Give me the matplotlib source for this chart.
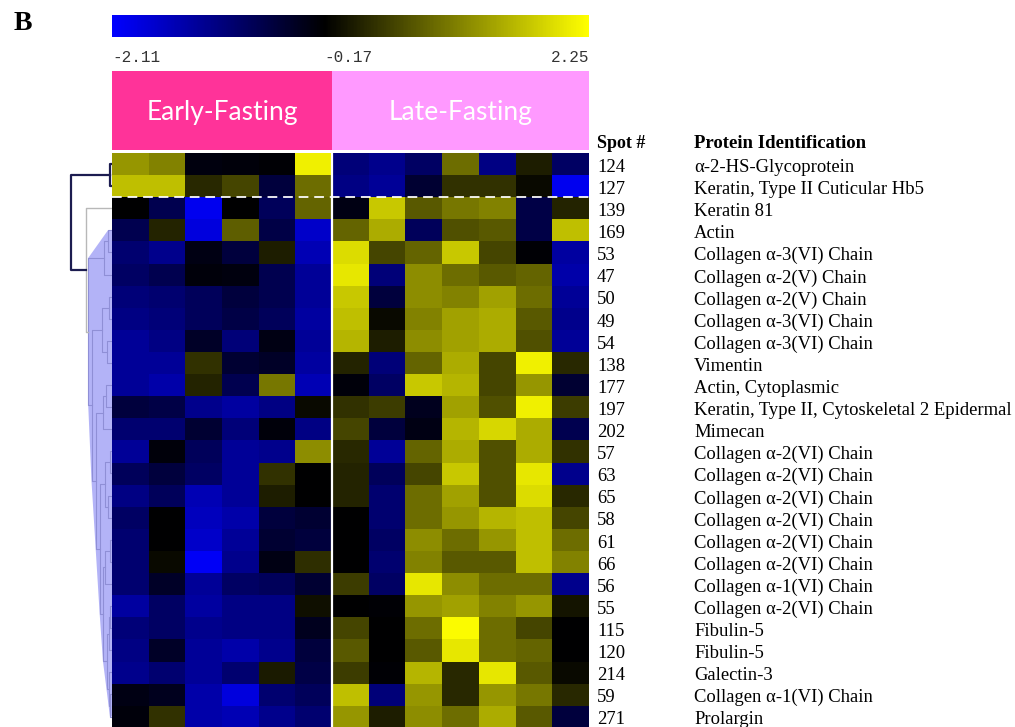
import matplotlib
matplotlib.use("Agg")
import matplotlib.pyplot as plt
import numpy as np
from matplotlib.colors import LinearSegmentedColormap, Normalize
from matplotlib.transforms import blended_transform_factory

W, H = 1015, 727

# expression values (row-standardised), rows in dendrogram order
spots = ["124", "127", "139", "169", "53", "47", "50", "49", "54", "138", "177",
         "197", "202", "57", "63", "65", "58", "61", "66", "56", "55", "115",
         "120", "214", "59", "271"]
proteins = [
    "α-2-HS-Glycoprotein", "Keratin, Type II Cuticular Hb5", "Keratin 81", "Actin",
    "Collagen α-3(VI) Chain", "Collagen α-2(V) Chain", "Collagen α-2(V) Chain",
    "Collagen α-3(VI) Chain", "Collagen α-3(VI) Chain", "Vimentin",
    "Actin, Cytoplasmic", "Keratin, Type II, Cytoskeletal 2 Epidermal", "Mimecan",
    "Collagen α-2(VI) Chain", "Collagen α-2(VI) Chain", "Collagen α-2(VI) Chain",
    "Collagen α-2(VI) Chain", "Collagen α-2(VI) Chain", "Collagen α-2(VI) Chain",
    "Collagen α-1(VI) Chain", "Collagen α-2(VI) Chain", "Fibulin-5", "Fibulin-5",
    "Galectin-3", "Collagen α-1(VI) Chain", "Prolargin",
]

early = [
    [1.26, 1.07, -0.28, -0.25, -0.21, 2.11],
    [1.64, 1.64, 0.21, 0.49, -0.63, 0.87],
    [-0.17, -0.78, -1.99, -0.17, -0.85, 0.78],
    [-0.78, 0.16, -1.84, 0.73, -0.70, -1.69],
    [-1.01, -1.23, -0.32, -0.63, 0.12, -1.54],
    [-0.93, -0.78, -0.25, -0.28, -0.78, -1.31],
    [-1.08, -1.01, -0.85, -0.63, -0.78, -1.31],
    [-1.16, -1.08, -0.85, -0.70, -0.85, -1.39],
    [-1.31, -1.16, -0.47, -1.08, -0.32, -1.31],
    [-1.31, -1.31, 0.30, -0.55, -0.47, -1.39],
    [-1.31, -1.46, 0.16, -0.78, 0.97, -1.54],
    [-0.63, -0.70, -1.23, -1.39, -1.16, -0.08],
    [-1.01, -1.01, -0.55, -1.08, -0.25, -1.16],
    [-1.31, -0.25, -0.85, -1.31, -1.23, 1.16],
    [-0.85, -0.63, -0.93, -1.31, 0.30, -0.17],
    [-1.16, -0.85, -1.54, -1.31, 0.12, -0.17],
    [-0.93, -0.17, -1.61, -1.46, -0.63, -0.55],
    [-1.01, -0.17, -1.69, -1.31, -0.55, -0.63],
    [-1.01, -0.08, -2.03, -1.23, -0.32, 0.26],
    [-1.01, -0.47, -1.31, -0.93, -0.85, -0.55],
    [-1.39, -0.93, -1.39, -1.16, -1.16, -0.03],
    [-1.08, -0.93, -1.23, -1.16, -1.16, -0.40],
    [-1.16, -0.47, -1.31, -1.46, -1.23, -0.63],
    [-1.23, -1.01, -1.31, -1.01, 0.07, -0.70],
    [-0.32, -0.40, -1.46, -1.84, -1.01, -0.85],
    [-0.25, 0.30, -1.46, -1.54, -1.23, -1.01],
]

late = [
    [-1.08, -1.23, -0.93, 0.87, -1.16, 0.12, -0.93],
    [-1.16, -1.31, -0.55, 0.30, 0.30, -0.08, -1.99],
    [-0.32, 1.73, 0.68, 0.97, 1.07, -0.70, 0.16],
    [0.78, 1.45, -0.85, 0.59, 0.68, -0.70, 1.64],
    [1.92, 0.49, 0.78, 1.73, 0.49, -0.21, -1.39],
    [2.02, -1.08, 1.16, 0.87, 0.68, 0.78, -1.46],
    [1.73, -0.63, 1.16, 1.07, 1.35, 0.87, -1.31],
    [1.64, -0.08, 1.07, 1.35, 1.45, 0.68, -1.23],
    [1.54, 0.12, 1.16, 1.35, 1.45, 0.59, -1.31],
    [0.16, -1.08, 0.78, 1.45, 0.49, 2.11, 0.21],
    [-0.25, -0.93, 1.73, 1.54, 0.49, 1.26, -0.55],
    [0.30, 0.40, -0.40, 1.35, 0.59, 2.11, 0.40],
    [0.49, -0.63, -0.32, 1.54, 1.87, 1.45, -0.78],
    [0.21, -1.31, 0.78, 1.45, 0.59, 1.45, 0.30],
    [0.16, -0.85, 0.49, 1.73, 0.59, 2.02, -1.23],
    [0.16, -1.01, 0.87, 1.35, 0.59, 1.92, 0.21],
    [-0.17, -1.01, 0.87, 1.26, 1.54, 1.64, 0.49],
    [-0.17, -0.93, 1.16, 0.87, 1.26, 1.64, 0.87],
    [-0.17, -1.01, 1.07, 0.68, 0.68, 1.64, 1.07],
    [0.40, -0.93, 2.02, 1.16, 0.87, 0.87, -1.23],
    [-0.17, -0.21, 1.26, 1.35, 1.07, 1.26, 0.02],
    [0.49, -0.17, 0.87, 2.21, 0.87, 0.49, -0.17],
    [0.68, -0.17, 0.68, 2.02, 0.87, 0.78, -0.17],
    [0.40, -0.21, 1.54, 0.21, 2.02, 0.68, -0.08],
    [1.64, -1.08, 1.26, 0.21, 1.26, 0.97, 0.21],
    [1.26, 0.12, 1.16, 0.87, 1.45, 0.68, -0.63],
]

groups = ["Early-Fasting", "Late-Fasting"]
group_colors = ["#ff3399", "#ff99ff"]
vmin, vcenter, vmax = -2.11, -0.17, 2.25

# row tree: (merge height, left, right); leaves are row indices
shaded = (0.58, (0.20, (0.10, 3, 4), 5),
          (0.50, (0.25, (0.08, 6, 7), (0.12, 8, 9)),
           (0.38, (0.22, (0.15, 10, 11), 12),
            (0.30, (0.18, (0.06, 13, 14), (0.09, 15, 16)),
             (0.22, (0.16, (0.05, 17, 18), 19),
              (0.12, (0.08, (0.06, 20, 21), 22), (0.07, 23, (0.05, 24, 25))))))))
tree = (1.0, (0.05, 0, 1), (0.63, 2, shaded))


def px(x0, y0, x1, y1):
    return [x0 / W, 1 - y1 / H, (x1 - x0) / W, (y1 - y0) / H]


def hull(points):
    pts = sorted(set(points))

    def cross(o, a, b):
        return (a[0] - o[0]) * (b[1] - o[1]) - (a[1] - o[1]) * (b[0] - o[0])
    lower, upper = [], []
    for p in pts:
        while len(lower) >= 2 and cross(lower[-2], lower[-1], p) <= 0:
            lower.pop()
        lower.append(p)
    for p in reversed(pts):
        while len(upper) >= 2 and cross(upper[-2], upper[-1], p) <= 0:
            upper.pop()
        upper.append(p)
    return lower[:-1] + upper[:-1]


def walk(node, segs, corners):
    if isinstance(node, int):
        corners.append((0.0, node + 0.5))
        return node + 0.5, 0.0
    h, left, right = node
    yl, hl = walk(left, segs, corners)
    yr, hr = walk(right, segs, corners)
    segs.append(([hl, h, h, hr], [yl, yl, yr, yr]))
    corners.extend([(h, yl), (h, yr)])
    return (yl + yr) / 2, h


cmap = LinearSegmentedColormap.from_list(
    "by", [(0.0, "#0000ff"), ((vcenter - vmin) / (vmax - vmin), "#000000"), (1.0, "#ffff00")])
norm = Normalize(vmin, vmax)
data = np.hstack([np.array(early), np.array(late)])
n_rows, n_cols = data.shape
n_early = len(early[0])

fig = plt.figure(figsize=(W / 100, H / 100), dpi=100)

# colour key
cax = fig.add_axes(px(112, 15, 589, 37))
cax.imshow(np.linspace(vmin, vmax, 400)[None, :], cmap=cmap, norm=norm, aspect="auto",
           extent=[vmin, vmax, 0, 1])
cax.axis("off")
kt = blended_transform_factory(cax.transData, fig.transFigure)
for val, ha in [(vmin, "left"), (vcenter, "left"), (vmax, "right")]:
    cax.text(val, 1 - 57 / H, f"{val:.2f}", transform=kt, ha=ha, va="center",
             family="Liberation Mono", fontsize=11.5, color="#333333")

# group header
hax = fig.add_axes(px(112, 71, 589, 150))
start = 0
for name, color, n in zip(groups, group_colors, [n_early, len(late[0])]):
    hax.axvspan(start, start + n, color=color, lw=0)
    hax.text(start + n / 2, 0.47, name, ha="center", va="center", color="white",
             family="Lato", fontsize=19)
    start += n
hax.set_xlim(0, n_cols)
hax.set_ylim(0, 1)
hax.axis("off")

# heatmap
ax = fig.add_axes(px(112, 153, 589, 153 + 22.1 * n_rows))
ax.imshow(data, cmap=cmap, norm=norm, aspect="auto", interpolation="nearest",
          extent=[0, n_cols, n_rows, 0])
ax.axvline(n_early, color="white", lw=1.6)
ax.axhline(2, color="white", lw=1.4, ls=(0, (5, 3)), alpha=0.9)
ax.set_xlim(0, n_cols)
ax.set_ylim(n_rows, 0)
ax.axis("off")

lt = blended_transform_factory(fig.transFigure, ax.transData)
fig.text(597 / W, 1 - 143 / H, "Spot #", family="Liberation Serif", weight="bold",
         fontsize=13, va="center")
fig.text(694 / W, 1 - 143 / H, "Protein Identification", family="Liberation Serif",
         weight="bold", fontsize=13.5, va="center")
for i, (s, p) in enumerate(zip(spots, proteins)):
    ax.text(597 / W, i + 0.65, s, transform=lt, family="Liberation Serif", fontsize=13.4,
            va="center", clip_on=False)
    ax.text(694 / W, i + 0.65, p, transform=lt, family="Liberation Serif", fontsize=13.4,
            va="center", clip_on=False)

fig.text(14 / W, 1 - 23 / H, "B", family="Liberation Serif", weight="bold",
         fontsize=20, va="center")

# row dendrogram
dax = fig.add_axes(px(60, 153, 112, 153 + 22.1 * n_rows))
root_h, top_pair, lower = tree
segs_top, segs_low, segs_sh = [], [], []
y_top, h_top = walk(top_pair, segs_top, [])
h_low, leaf_low, sub = lower
y_leaf = leaf_low + 0.5
sh_corners = []
y_sub, h_sub = walk(sub, segs_sh, sh_corners)
y_low = (y_leaf + y_sub) / 2
segs_low.append(([0, h_low, h_low, h_sub], [y_leaf, y_leaf, y_sub, y_sub]))
segs_top.append(([h_top, root_h, root_h, h_low], [y_top, y_top, y_low, y_low]))

poly = hull(sh_corners)
dax.fill([p[0] for p in poly], [p[1] for p in poly], color="#b3b3f7", lw=0)
for xs, ys in segs_sh:
    dax.plot(xs, ys, color="#8f8fd6", lw=0.8)
for xs, ys in segs_low:
    dax.plot(xs, ys, color="#b8b8b8", lw=1.0)
for xs, ys in segs_top:
    dax.plot(xs, ys, color="#1c1c50", lw=1.6)
dax.set_xlim((112 - 60) / 41, 0)
dax.set_ylim(n_rows, 0)
dax.axis("off")

fig.savefig("out.png", dpi=100)
